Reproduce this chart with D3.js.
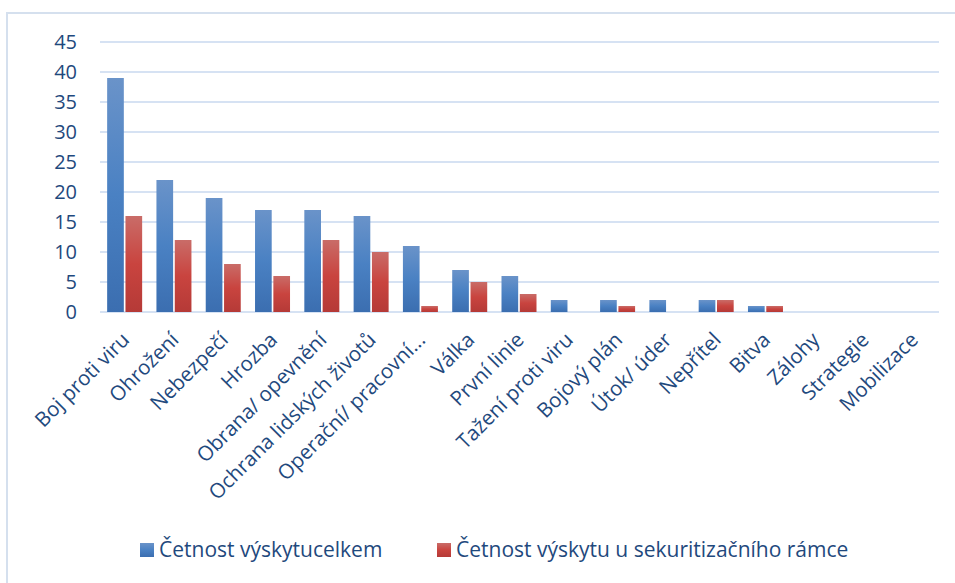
<!DOCTYPE html>
<html>
<head>
<meta charset="utf-8">
<script src="https://cdn.jsdelivr.net/npm/d3@7"></script>
<style>
  body { margin: 0; background: #fff; }
  svg { display: block; font-family: "Open Sans", sans-serif; }
</style>
</head>
<body>
<svg id="chart" width="955" height="583"></svg>
<script>
// data
var kategorie = ['Boj proti viru', 'Ohrožení', 'Nebezpečí', 'Hrozba', 'Obrana/ opevnění',
  'Ochrana lidských životů', 'Operační/ pracovní...', 'Válka', 'První linie', 'Tažení proti viru',
  'Bojový plán', 'Útok/ úder', 'Nepřítel', 'Bitva', 'Zálohy', 'Strategie', 'Mobilizace'];
var celkem = [39, 22, 19, 17, 17, 16, 11, 7, 6, 2, 2, 2, 2, 1, 0, 0, 0];
var sekuritizace = [16, 12, 8, 6, 12, 10, 1, 5, 3, 0, 1, 0, 2, 1, 0, 0, 0];
var serie = ['Četnost výskytucelkem', 'Četnost výskytu u sekuritizačního rámce'];
var yTicks = [0, 5, 10, 15, 20, 25, 30, 35, 40, 45];

var svg = d3.select('#chart');
var textColor = '#1f497d';
var font = '"Open Sans", sans-serif';

// border of the chart area
svg.append('path')
  .attr('d', 'M7,583 V13 H955')
  .attr('fill', 'none')
  .attr('stroke', '#d5e0ee')
  .attr('stroke-width', 2);

// gradients
var defs = svg.append('defs');
function gradient(id, stops) {
  var g = defs.append('linearGradient').attr('id', id)
    .attr('x1', 0).attr('y1', 0).attr('x2', 0).attr('y2', 1);
  stops.forEach(function(s) {
    g.append('stop').attr('offset', s[0]).attr('stop-color', s[1]);
  });
}
gradient('gBlue', [[0, '#6a93c9'], [0.5, '#4a81c3'], [1, '#3b6eb0']]);
gradient('gRed', [[0, '#c96c68'], [0.5, '#c9443f'], [1, '#b53a37']]);

var xScale = d3.scaleBand()
  .domain(kategorie)
  .range([100, 938])
  .paddingInner(0.29)
  .paddingOuter(0.145);

var xInner = d3.scaleBand()
  .domain([0, 1])
  .range([0, xScale.bandwidth()])
  .paddingInner(0.09);

var yScale = d3.scaleLinear()
  .domain([0, 45])
  .range([312, 42]);

// grid
svg.append('g')
  .selectAll('line')
  .data(yTicks)
  .join('line')
  .attr('x1', 100)
  .attr('x2', 939)
  .attr('y1', function(d) { return yScale(d); })
  .attr('y2', function(d) { return yScale(d); })
  .attr('stroke', '#d6e2f3')
  .attr('stroke-width', 2);

// y axis
var yAxis = svg.append('g')
  .attr('transform', 'translate(77,0)')
  .call(d3.axisLeft(yScale).tickValues(yTicks).tickSize(0).tickPadding(0));
yAxis.select('.domain').remove();
yAxis.selectAll('text')
  .attr('fill', textColor)
  .attr('font-size', 20)
  .attr('font-family', font);

// bars
var groups = svg.append('g')
  .selectAll('g')
  .data(kategorie)
  .join('g')
  .attr('transform', function(d) { return 'translate(' + xScale(d) + ',0)'; });

groups.append('rect')
  .attr('x', xInner(0))
  .attr('width', xInner.bandwidth())
  .attr('y', function(d, i) { return yScale(celkem[i]); })
  .attr('height', function(d, i) { return yScale(0) - yScale(celkem[i]); })
  .attr('fill', 'url(#gBlue)');

groups.append('rect')
  .attr('x', xInner(1))
  .attr('width', xInner.bandwidth())
  .attr('y', function(d, i) { return yScale(sekuritizace[i]); })
  .attr('height', function(d, i) { return yScale(0) - yScale(sekuritizace[i]); })
  .attr('fill', 'url(#gRed)');

// x axis labels
var xAxis = svg.append('g')
  .attr('transform', 'translate(0,336)')
  .call(d3.axisBottom(xScale).tickSize(0).tickPadding(0));
xAxis.select('.domain').remove();
xAxis.selectAll('text')
  .attr('fill', textColor)
  .attr('font-size', 20.5)
  .attr('font-family', font)
  .attr('text-anchor', 'end')
  .attr('y', 0)
  .attr('dy', '0.35em')
  .attr('transform', 'translate(1,0) rotate(-45)');

// legend
var legendX = [140, 437];
var legendColors = ['url(#gBlue)', 'url(#gRed)'];
var legend = svg.append('g')
  .selectAll('g')
  .data(serie)
  .join('g')
  .attr('transform', function(d, i) { return 'translate(' + legendX[i] + ',543)'; });
legend.append('rect')
  .attr('width', 14)
  .attr('height', 14)
  .attr('fill', function(d, i) { return legendColors[i]; });
legend.append('text')
  .attr('x', 19)
  .attr('y', 7)
  .attr('dy', '0.35em')
  .attr('fill', textColor)
  .attr('font-size', 21)
  .text(function(d) { return d; });
</script>
</body>
</html>
